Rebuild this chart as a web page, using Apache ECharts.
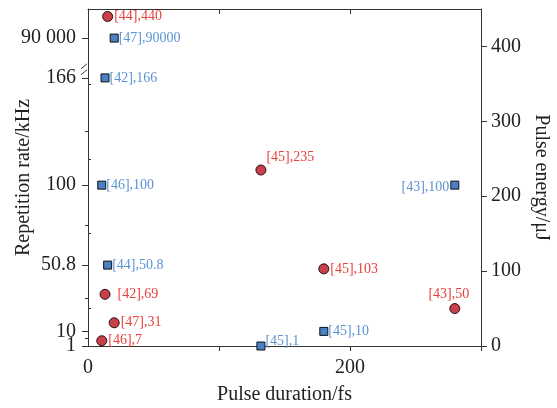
<!DOCTYPE html>
<html><head><meta charset="utf-8">
<script src="https://cdn.jsdelivr.net/npm/echarts@6/dist/echarts.min.js"></script>
<style>html,body{margin:0;padding:0;background:#fff}#c{width:557px;height:408px}</style>
</head><body><div id="c"></div>
<script>
// ---- data ----
const energyRefs = ['[44]','[45]','[42]','[47]','[46]','[45]','[43]'];
const energyDuration = [15, 132, 13, 20, 10.5, 180, 280];
const energyValues = [440, 235, 69, 31, 7, 103, 50];

const rateRefs = ['[47]','[42]','[46]','[44]','[45]','[45]','[43]'];
const rateDuration = [20, 13, 10.5, 15, 132, 180, 280];
const rateValues = [90000, 166, 100, 50.8, 1, 10, 100];

const rateTickValues = [1, 10, 50.8, 100, 166, 90000];
const rateTickLabels = ['1', '10', '50.8', '100', '166', '90 000'];
const rateMinorTicks = [5.5, 30.4, 75.4, 133];
const energyTickValues = [0, 100, 200, 300, 400];
const energyMinorTicks = [50, 150, 250, 350];
const durationTickValues = [0, 200];
const durationMinorTicks = [100, 200, 300];

// ---- broken left scale ----
const BREAK_LOW = 170, HIGH_VALUE = 90000, HIGH_POS = 190.5, HIGH_SCALE = 0.001;
function rateToAxis(v) { return v <= BREAK_LOW ? v : HIGH_POS + (v - HIGH_VALUE) * HIGH_SCALE; }
function rateLabel(val) {
  let best = 0, bd = Infinity;
  rateTickValues.forEach((t, i) => { const d = Math.abs(rateToAxis(t) - val); if (d < bd) { bd = d; best = i; } });
  return rateTickLabels[best];
}
const rateAxisMin = 1, rateAxisMax = 208.4;

const FONT = "'Liberation Serif','Times New Roman',serif";
const RED = '#e8403c', BLUE = '#5a93d3';
const AXC = '#333', TXC = '#222';

const energyLabelStyle = {
  1: {position: 'right', distance: 0, offset: [0, -13]},
  2: {position: 'right', distance: 7},
  6: {position: 'top', distance: 2, offset: [-6, 0]}
};
const rateLabelStyle = {
  4: {position: 'right', distance: 0, offset: [0, -5]},
  6: {position: 'left', distance: 1, offset: [0, 2]}
};

const energyData = energyValues.map((v, i) => ({
  value: [energyDuration[i], v],
  label: Object.assign({position: 'right', distance: 1}, energyLabelStyle[i] || {}),
  ref: energyRefs[i]
}));
const rateData = rateValues.map((v, i) => ({
  value: [rateDuration[i], rateToAxis(v)],
  label: Object.assign({position: 'right', distance: 0}, rateLabelStyle[i] || {}),
  ref: rateRefs[i], raw: v
}));

// split left labels over two overlaid axes so that the close "1" and "10" both show
const leftLabelsA = rateTickValues.filter((v, i) => i % 2 === 0).map(rateToAxis);
const leftLabelsB = rateTickValues.filter((v, i) => i % 2 === 1).map(rateToAxis);

const chart = echarts.init(document.getElementById('c'), null, {renderer: 'canvas'});
const tickLbl = {color: TXC, fontFamily: FONT, fontSize: 20, showMinLabel: true, showMaxLabel: true, hideOverlap: false};
const nameStyle = {color: TXC, fontFamily: FONT, fontSize: 20};

chart.setOption({
  animation: false,
  backgroundColor: '#fff',
  grid: {left: 88, right: 76, top: 9, bottom: 62, containLabel: false, outerBoundsMode: 'none'},
  xAxis: [
    {type: 'value', position: 'bottom', min: 0, max: 300,
     name: 'Pulse duration/fs', nameLocation: 'middle', nameGap: 39, nameMoveOverlap: false, nameTextStyle: nameStyle,
     axisLine: {show: true, lineStyle: {color: AXC, width: 1}},
     axisTick: {show: true, length: 5, inside: false, customValues: durationMinorTicks, lineStyle: {color: AXC}},
     axisLabel: Object.assign({margin: 12, customValues: durationTickValues}, tickLbl),
     splitLine: {show: false}},
    {type: 'value', position: 'top', min: 0, max: 300,
     axisLine: {show: true, onZero: false, lineStyle: {color: AXC, width: 1}},
     axisTick: {show: true, length: 5, inside: true, customValues: durationMinorTicks, lineStyle: {color: AXC}},
     axisLabel: {show: false}, splitLine: {show: false}}
  ],
  yAxis: [
    {type: 'value', position: 'left', min: rateAxisMin, max: rateAxisMax,
     name: 'Repetition rate/kHz', nameLocation: 'middle', nameGap: 54, nameRotate: 90, nameMoveOverlap: false, nameTextStyle: nameStyle,
     axisLine: {show: true, onZero: false, lineStyle: {color: AXC, width: 1}},
     axisTick: {show: true, length: 6, customValues: rateTickValues.map(rateToAxis), lineStyle: {color: AXC}},
     axisLabel: Object.assign({margin: 12, customValues: leftLabelsA, formatter: rateLabel}, tickLbl),
     splitLine: {show: false}},
    {type: 'value', position: 'right', min: 0, max: 450,
     name: 'Pulse energy/μJ', nameLocation: 'middle', nameGap: 50, nameRotate: -90, nameMoveOverlap: false, nameTextStyle: nameStyle,
     axisLine: {show: true, onZero: false, lineStyle: {color: AXC, width: 1}},
     axisTick: {show: true, length: 6, customValues: energyTickValues, lineStyle: {color: AXC}},
     axisLabel: Object.assign({margin: 10, customValues: energyTickValues}, tickLbl),
     splitLine: {show: false}},
    {type: 'value', position: 'left', min: rateAxisMin, max: rateAxisMax,
     axisLine: {show: false},
     axisTick: {show: true, length: 3, customValues: rateMinorTicks.map(rateToAxis), lineStyle: {color: AXC}},
     axisLabel: Object.assign({margin: 12, customValues: leftLabelsB, formatter: rateLabel}, tickLbl),
     splitLine: {show: false}},
    {type: 'value', position: 'right', min: 0, max: 450,
     axisLine: {show: false},
     axisTick: {show: true, length: 3, customValues: energyMinorTicks, lineStyle: {color: AXC}},
     axisLabel: {show: false}, splitLine: {show: false}}
  ],
  series: [
    {type: 'scatter', name: 'Repetition rate', xAxisIndex: 0, yAxisIndex: 0,
     symbol: 'rect', symbolSize: 8,
     itemStyle: {color: '#4a80c4', borderColor: '#111', borderWidth: 1, opacity: 1},
     label: {show: true, color: BLUE, fontFamily: FONT, fontSize: 14,
       formatter: (p) => p.data.ref + ',' + p.data.raw},
     data: rateData, z: 3},
    {type: 'scatter', name: 'Pulse energy', xAxisIndex: 0, yAxisIndex: 1,
     symbol: 'circle', symbolSize: 10,
     itemStyle: {color: '#c8404a', borderColor: '#2a1010', borderWidth: 1, opacity: 1},
     label: {show: true, color: RED, fontFamily: FONT, fontSize: 14,
       formatter: (p) => p.data.ref + ',' + p.data.value[1]},
     data: energyData, z: 3}
  ]
});

// axis-break marks on the left axis
const yb = chart.convertToPixel({yAxisIndex: 0}, BREAK_LOW + 1);
const xb = chart.convertToPixel({xAxisIndex: 0}, 0);
chart.setOption({graphic: [
  {type: 'line', shape: {x1: xb - 7, y1: yb - 1, x2: xb - 1, y2: yb - 6}, style: {stroke: AXC, lineWidth: 1}},
  {type: 'line', shape: {x1: xb - 7, y1: yb + 5, x2: xb - 1, y2: yb}, style: {stroke: AXC, lineWidth: 1}}
]});
</script></body></html>
